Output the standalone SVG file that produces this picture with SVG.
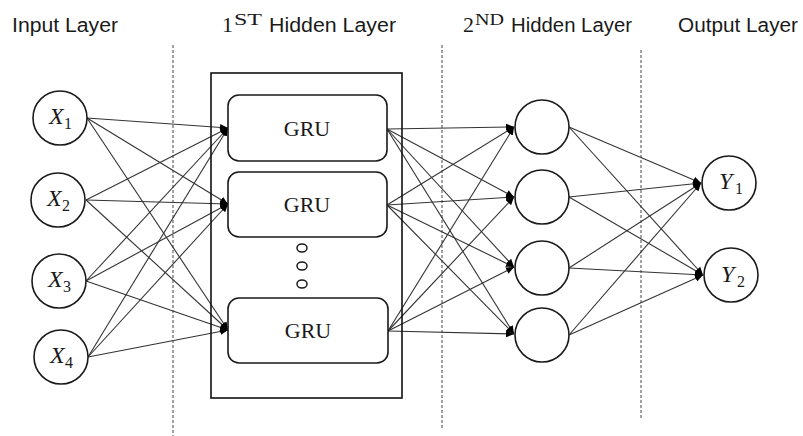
<svg xmlns="http://www.w3.org/2000/svg" width="803" height="436" viewBox="0 0 803 436">
<defs>
<style>
.hdr{font-family:"Liberation Sans","Open Sans",sans-serif;font-size:20px;fill:#1a1a1a}
.hsr{font-family:"Liberation Serif",serif;fill:#1a1a1a}
.node{fill:#fff;stroke:#1a1a1a;stroke-width:1.6}
.gru{font-family:"Liberation Serif",serif;font-size:22px;fill:#1a1a1a;text-anchor:middle}
.var{font-family:"Liberation Serif",serif;font-style:italic;font-size:24px;fill:#1a1a1a}
.sub{font-family:"Liberation Serif",serif;font-size:16px;fill:#1a1a1a}
.dash{stroke:#444;stroke-width:1;stroke-dasharray:3 2}
.edge{stroke:#333;stroke-width:1.1;fill:none;marker-end:url(#arr)}
</style>
<marker id="arr" markerUnits="userSpaceOnUse" markerWidth="9" markerHeight="8" refX="8" refY="4" orient="auto">
<path d="M0,0.5 L8,4 L0,7.5 z" fill="#000"/>
</marker>
</defs>
<rect width="803" height="436" fill="#fff"/>

<g id="headers">
<text class="hdr" x="12" y="32" textLength="106" lengthAdjust="spacingAndGlyphs">Input Layer</text>
<text class="hsr" x="222" y="32" font-size="22">1</text>
<text class="hsr" x="234" y="25" font-size="16" textLength="28" lengthAdjust="spacingAndGlyphs">ST</text>
<text class="hdr" x="269" y="32" textLength="127" lengthAdjust="spacingAndGlyphs">Hidden Layer</text>
<text class="hsr" x="463" y="32" font-size="22">2</text>
<text class="hsr" x="475" y="25" font-size="16" textLength="29" lengthAdjust="spacingAndGlyphs">ND</text>
<text class="hdr" x="511" y="32" textLength="121" lengthAdjust="spacingAndGlyphs">Hidden Layer</text>
<text class="hdr" x="678" y="32" textLength="120" lengthAdjust="spacingAndGlyphs" fill="#2a2a2a">Output Layer</text>
</g>

<g id="separators">
<line class="dash" x1="173" y1="45" x2="173" y2="436"/>
<line class="dash" x1="442" y1="45" x2="442" y2="430"/>
<line class="dash" x1="641" y1="50" x2="641" y2="420"/>
</g>

<g id="connectors">
<line class="edge" x1="87" y1="118" x2="228" y2="128"/>
<line class="edge" x1="87" y1="118" x2="228" y2="204"/>
<line class="edge" x1="87" y1="118" x2="228" y2="330"/>
<line class="edge" x1="86" y1="200" x2="228" y2="128"/>
<line class="edge" x1="86" y1="200" x2="228" y2="204"/>
<line class="edge" x1="86" y1="200" x2="228" y2="330"/>
<line class="edge" x1="86" y1="281" x2="228" y2="128"/>
<line class="edge" x1="86" y1="281" x2="228" y2="204"/>
<line class="edge" x1="86" y1="281" x2="228" y2="330"/>
<line class="edge" x1="88" y1="357" x2="228" y2="128"/>
<line class="edge" x1="88" y1="357" x2="228" y2="204"/>
<line class="edge" x1="88" y1="357" x2="228" y2="330"/>
<line class="edge" x1="387" y1="129" x2="514" y2="127"/>
<line class="edge" x1="387" y1="129" x2="514" y2="197"/>
<line class="edge" x1="387" y1="129" x2="514" y2="267"/>
<line class="edge" x1="387" y1="129" x2="514" y2="334"/>
<line class="edge" x1="387" y1="205" x2="514" y2="127"/>
<line class="edge" x1="387" y1="205" x2="514" y2="197"/>
<line class="edge" x1="387" y1="205" x2="514" y2="267"/>
<line class="edge" x1="387" y1="205" x2="514" y2="334"/>
<line class="edge" x1="388" y1="331" x2="514" y2="127"/>
<line class="edge" x1="388" y1="331" x2="514" y2="197"/>
<line class="edge" x1="388" y1="331" x2="514" y2="267"/>
<line class="edge" x1="388" y1="331" x2="514" y2="334"/>
<line class="edge" x1="569" y1="127" x2="701" y2="183"/>
<line class="edge" x1="569" y1="127" x2="703" y2="275"/>
<line class="edge" x1="569" y1="197" x2="701" y2="183"/>
<line class="edge" x1="569" y1="197" x2="703" y2="275"/>
<line class="edge" x1="569" y1="268" x2="701" y2="183"/>
<line class="edge" x1="569" y1="268" x2="703" y2="275"/>
<line class="edge" x1="569" y1="335" x2="701" y2="183"/>
<line class="edge" x1="569" y1="335" x2="703" y2="275"/>
</g>

<g id="hidden1-frame">
<rect x="211" y="73" width="191" height="325" fill="none" stroke="#111" stroke-width="1.6"/>
</g>

<g id="x1"><circle class="node" cx="60" cy="118" r="27"/><text class="var" x="49" y="124">X</text><text class="sub" x="64" y="129">1</text></g>
<g id="x2"><circle class="node" cx="58" cy="200" r="27"/><text class="var" x="47" y="206">X</text><text class="sub" x="62" y="211">2</text></g>
<g id="x3"><circle class="node" cx="59" cy="281" r="27"/><text class="var" x="48" y="287">X</text><text class="sub" x="63" y="292">3</text></g>
<g id="x4"><circle class="node" cx="61" cy="357" r="27"/><text class="var" x="50" y="363">X</text><text class="sub" x="65" y="368">4</text></g>

<g id="gru1"><rect class="node" x="228" y="95" width="159" height="66" rx="11"/><text class="gru" x="307" y="136">GRU</text></g>
<g id="gru2"><rect class="node" x="228" y="172" width="159" height="65" rx="11"/><text class="gru" x="307" y="212">GRU</text></g>
<g id="ellipsis">
<ellipse cx="302" cy="248" rx="5" ry="4" fill="#fff" stroke="#1a1a1a" stroke-width="1.5"/>
<ellipse cx="302" cy="266" rx="5" ry="4" fill="#fff" stroke="#1a1a1a" stroke-width="1.5"/>
<ellipse cx="302" cy="284" rx="5" ry="4" fill="#fff" stroke="#1a1a1a" stroke-width="1.5"/>
</g>
<g id="gru3"><rect class="node" x="228" y="298" width="160" height="65" rx="11"/><text class="gru" x="308" y="338">GRU</text></g>

<g id="h1"><circle class="node" cx="542" cy="127" r="27"/></g>
<g id="h2"><circle class="node" cx="542" cy="197" r="27"/></g>
<g id="h3"><circle class="node" cx="542" cy="268" r="27"/></g>
<g id="h4"><circle class="node" cx="542" cy="335" r="27"/></g>

<g id="y1"><circle class="node" cx="729" cy="183" r="27"/><text class="var" x="719" y="189">Y</text><text class="sub" x="735" y="194">1</text></g>
<g id="y2"><circle class="node" cx="731" cy="275" r="27"/><text class="var" x="721" y="282">Y</text><text class="sub" x="737" y="287">2</text></g>
</svg>
